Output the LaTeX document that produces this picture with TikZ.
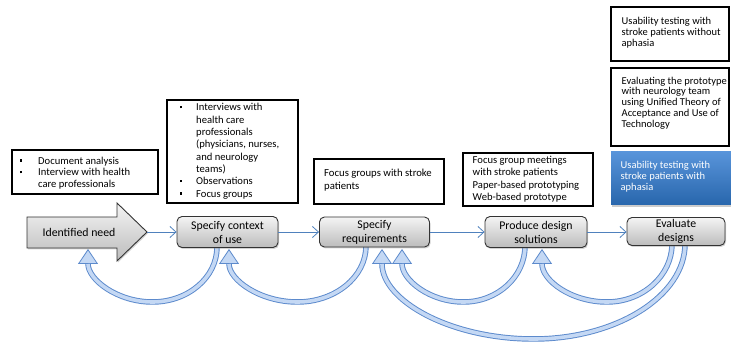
\documentclass[tikz,border=0pt]{standalone}
\usepackage{fontspec}
\setmainfont{Carlito}
\usetikzlibrary{arrows.meta,shadows}
\definecolor{lnblue}{RGB}{79,129,189}
\definecolor{ribdark}{RGB}{92,138,204}
\definecolor{riblight}{RGB}{196,216,244}
\definecolor{boxtop}{RGB}{244,244,244}
\definecolor{boxbot}{RGB}{188,188,188}
\definecolor{bluetop}{RGB}{88,148,218}
\definecolor{bluebot}{RGB}{40,102,172}
% #1 start, #2 bottom, #3 end, #4 x handle, #5 y handle
\newcommand\myribbon[5]{%
  \draw[line width=5.5pt, draw=ribdark, -{Triangle[width=20pt,length=15pt,fill=riblight,line width=0.8pt]}]
    (#1) .. controls +(0,#5) and +(#4,0) .. (#2) .. controls +(-#4,0) and +(0,#5) .. (#3);
  \draw[line width=3.6pt, draw=riblight, shorten >=15pt]
    (#1) .. controls +(0,#5) and +(#4,0) .. (#2) .. controls +(-#4,0) and +(0,#5) .. (#3);
}
\newcommand\bul{\raisebox{2.5pt}{\rule{2.2pt}{2.2pt}}}
\tikzset{
  mbox/.style={rounded corners=5pt, draw=black!80, line width=0.9pt,
    top color=boxtop, bottom color=boxbot, align=center, inner sep=0pt,
    font=\fontsize{11.8}{14}\selectfont,
    drop shadow={opacity=0.35, shadow xshift=1pt, shadow yshift=-1.5pt}},
  tbox/.style={draw=black, line width=1.4pt, fill=white, inner sep=0pt},
  txt/.style={inner sep=0pt, align=left, anchor=west},
  conn/.style={draw=lnblue, line width=0.8pt, -{Straight Barb[length=6pt,width=11pt,line width=0.8pt]}}
}
\begin{document}
\begin{tikzpicture}[x=1pt,y=-1pt]
\useasboundingbox (0,0) rectangle (731,344);

% ribbon coordinates
\coordinate (r1s) at (217,247);
\coordinate (r1b) at (152.5,302);
\coordinate (r1e) at (88,249);
\coordinate (r2s) at (366,246);
\coordinate (r2b) at (297.5,302);
\coordinate (r2e) at (229,249);
\coordinate (r3s) at (525,246);
\coordinate (r3b) at (463.5,302);
\coordinate (r3e) at (402,249);
\coordinate (r4s) at (672,244);
\coordinate (r4b) at (607,302);
\coordinate (r4e) at (542,249);
\coordinate (r5s) at (685,244);
\coordinate (r5b) at (533.5,339);
\coordinate (r5e) at (382,249);

\myribbon{r5s}{r5b}{r5e}{83.7}{51.5}
\myribbon{r1s}{r1b}{r1e}{35.6}{30.4}
\myribbon{r2s}{r2b}{r2e}{37.8}{30.8}
\myribbon{r3s}{r3b}{r3e}{34}{30.8}
\myribbon{r4s}{r4b}{r4e}{35.9}{31.5}

% identified need arrow
\draw[line width=0.9pt, draw=black!80, top color=boxtop, bottom color=boxbot,
      drop shadow={opacity=0.35, shadow xshift=1pt, shadow yshift=-1.5pt}]
  (27,217) -- (117,217) -- (117,203) -- (147,232) -- (117,261) -- (117,248) -- (27,248) -- cycle;
\coordinate (needtip) at (147,232);
\node[inner sep=0pt, font=\fontsize{11.8}{14}\selectfont] (need) at (79,232) {Identified need};

% main boxes
\node[mbox, minimum width=101pt, minimum height=31pt] (ctx) at (227.5,232) {Specify context\\of use};
\node[mbox, minimum width=110pt, minimum height=30pt] (req) at (374.5,232) {Specify\\requirements};
\node[mbox, minimum width=102pt, minimum height=31pt] (prod) at (536,232) {Produce design\\solutions};
\node[mbox, minimum width=98pt, minimum height=28pt] (eval) at (676,231.5) {Evaluate\\designs};

% connectors
\draw[conn] (needtip) -- (needtip -| ctx.west);
\draw[conn] (ctx.east) -- (req.west);
\draw[conn] (req.east) -- (prod.west);
\draw[conn] (prod.east) -- (prod.east -| eval.west);

% text boxes
\node[tbox, minimum width=146pt, minimum height=44pt] (b1) at (85,172) {};
\node[txt] (t1) at (20,173.5) {\fontsize{10.6}{11.8}\selectfont
  \begin{tabular}{@{}p{18pt}@{}l@{}}
  \bul & Document analysis\\
  \bul & Interview with health\\
       & care professionals
  \end{tabular}};

\node[tbox, minimum width=131pt, minimum height=103pt] (b2) at (232.5,151.5) {};
\node[txt] (t2) at (179.5,151.5) {\fontsize{10.6}{12.3}\selectfont
  \begin{tabular}{@{}p{16.5pt}@{}l@{}}
  \bul & Interviews with\\
       & health care\\
       & professionals\\
       & (physicians, nurses,\\
       & and neurology\\
       & teams)\\
  \bul & Observations\\
  \bul & Focus groups
  \end{tabular}};

\node[tbox, minimum width=130pt, minimum height=45pt] (b3) at (379,181.5) {};
\node[txt, font=\fontsize{10.7}{12.8}\selectfont] (t3) at (324,180.5) {Focus groups with stroke\\patients};

\node[tbox, minimum width=130pt, minimum height=53pt] (b4) at (528,179.5) {};
\node[txt, font=\fontsize{10.6}{12.5}\selectfont] (t4) at (472.5,179) {Focus group meetings\\with stroke patients\\Paper-based prototyping\\Web-based prototype};

\node[tbox, minimum width=118pt, minimum height=54pt] (b5) at (670,34) {};
\node[txt, font=\fontsize{10.5}{10.8}\selectfont] (t5) at (621.5,32.5) {Usability testing with\\stroke patients without\\aphasia};

\node[tbox, minimum width=118pt, minimum height=78pt] (b6) at (670,107) {};
\node[txt, font=\fontsize{10.5}{10.8}\selectfont] (t6) at (621.5,103) {Evaluating the prototype\\with neurology team\\using Unified Theory of\\Acceptance and Use of\\Technology};

\node[inner sep=0pt, minimum width=120pt, minimum height=53pt, top color=bluetop, bottom color=bluebot,
      drop shadow={opacity=0.4, shadow xshift=0.5pt, shadow yshift=-2pt}] (b7) at (671,178.5) {};
\node[txt, text=white, font=\fontsize{10.5}{10.8}\selectfont] (t7) at (620.5,177) {Usability testing with\\stroke patients with\\aphasia};
\end{tikzpicture}
\end{document}
